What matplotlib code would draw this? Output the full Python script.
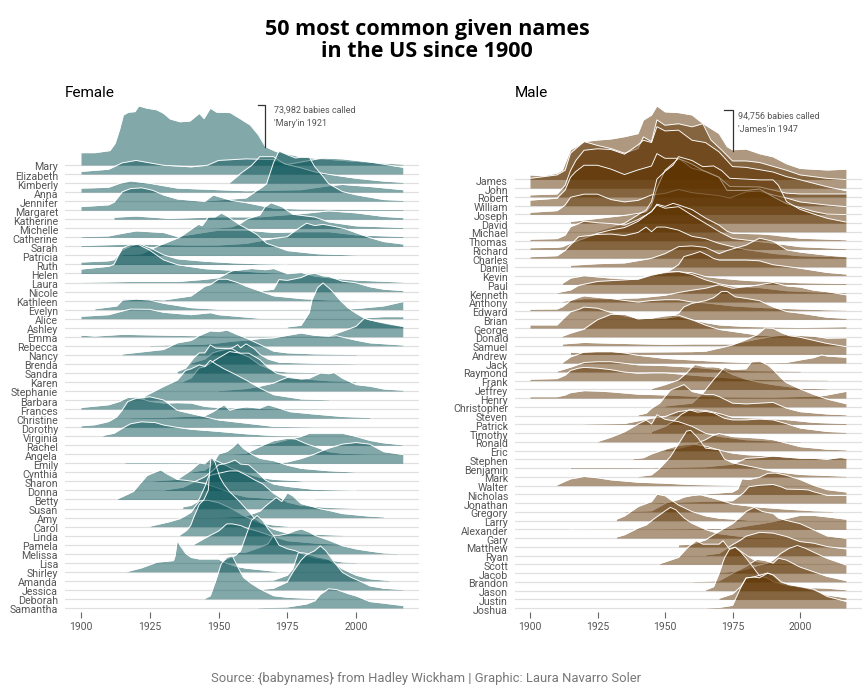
import matplotlib
matplotlib.use("Agg")
import matplotlib.pyplot as plt

# (years, counts in thousands)
mary = ([1900,1905,1910.5,1912.4,1914,1915.4,1917.2,1919.6,1921,1923.9,1927.5,1930,1932.4,1936,1939.6,1943,1944.7,1947,1949.3,1954.2,1957.8,1961.5,1964.5,1967,1971,1975,1980,1990,2000,2017],
        [15.4,15.4,18,27,44,62.5,66,66.7,73.9,71,69,64.6,57.5,54,55,64.6,58,71,66,65.5,58,50,37.5,23,16.7,14,10,7,4.5,1])
elizabeth = ([1900,1910,1915,1920,1930,1940,1946,1950,1960,1970,1975,1980,1988,1995,2005,2017],
             [3.3,6,14,17,11,9,11,17,19,18,12,15,20,19,15,8.5])
kimberly = ([1954,1958,1962,1965,1970,1974,1980,1985,1990,2000,2010,2017],
            [0.5,12,22,33,33,24,19,14,11,6,2.5,1])
anna = ([1900,1910,1914,1918,1925,1935,1950,1960,1980,1990,1995,2005,2017],
        [5,6,11,14,11,5,3,1.7,3,8,9.6,7,3])
jennifer = ([1946,1960,1966,1967.5,1970,1972,1975,1978,1980,1983,1985,1988,1990,1995,2000,2010,2017],
            [0.5,4,18,22,48,63,58,54,55,55,43,31,22,12,8,2,1])
margaret = ([1900,1910,1912,1915,1918,1922,1926,1930,1935,1945,1948,1955,1960,1970,1980,2017],
            [4.5,6.7,10,23,27,28,25,19,14,11,19,12,9.5,2.5,1.5,0.8])
katherine = ([1912,1920,1932,1950,1965,1980,1990,2000,2010,2017],
             [2.5,4,1,3,3,7,10.5,8,3.5,2])
michelle = ([1945,1950,1955,1958,1960,1965,1967,1969,1973,1977,1985,1990,2000,2017],
            [0.2,0.5,2,6,11,16.7,27,32,27,17.5,14,8,3,1])
catherine = ([1900,1910,1915,1920,1930,1935,1950,1960,1970,1980,1990,2000,2017],
             [0.8,1.7,5,8,6,1,9,9,6,7,7,3,1])
sarah = ([1900,1920,1940,1950,1960,1970,1975,1978,1982,1985,1988,1992,1996,2000,2005,2010,2017],
         [1,3,1.5,1.7,3.7,10,12,20,29,26,27.5,25,22,17,11,6,3])
patricia = ([1915,1922,1927.5,1936,1942.7,1944,1946.3,1948.7,1951,1953.6,1957.8,1960,1964,1967.5,1971,1975,1986,2000],
            [1,2,11,23,39,37,48,48,53,48,38,34,26,15,11,6,2,0.5])
ruth = ([1900,1910,1912,1915,1918,1921,1925,1930,1935,1945,1955,1965,1975],
        [3,4.5,6,18,23,26,21,12,7,4,2,0.8,0.3])
helen = ([1900,1910,1912,1915,1918,1921,1925,1930,1935,1945,1955,1965,1970,1980],
         [5.5,9,11.5,32,36,36,29,17,11,6,4,1.5,0.8,0.3])
laura = ([1900,1910,1917,1935,1945,1950,1955,1962,1967,1970,1975,1980,1985,1990,2000,2017],
         [0.3,0.8,1.2,1.2,4,6,14.6,17.5,16,17.5,11,12.5,8,6,3,0.5])
nicole = ([1966,1970,1972,1975,1980,1983,1985,1988,1990,1995,2000,2005,2010,2017],
          [1,3,15,14,17.5,22,23,19.6,19,13,11,6,3,1.2])
kathleen = ([1915,1920,1930,1940,1945,1947,1950,1953,1957,1960,1965,1970,1980,1990,2000],
            [1.7,2.5,0.8,5.8,18,20,26.7,26.7,22.5,18,12,6,2.5,0.8,0.3])
evelyn = ([1905,1913,1915,1920,1925,1930,1940,1950,1960,1995,2000,2010,2017],
          [1,4.6,11.7,13,12,8,2.5,0.5,0.3,0.6,1.3,4.6,10])
alice = ([1900,1910,1915,1918,1925,1930,1940,1947,1950,1960,1965,2000,2010,2017],
         [3,5,9.6,12,11.7,8,5,7.5,5,2,0.5,0.5,2.5,2.5])
ashley = ([1975,1980,1983,1984,1986,1988,1991,1994,1997,2000,2003,2008,2012,2017],
          [1,3,19,35,50,56,47,35,25,18,12,7,4,1.5])
emma = ([1900,1905,1915,1930,1950,1960,1990,2000,2003,2005,2010,2017],
        [2,0.8,3,2,0.8,0.8,0.8,13,23,21,17.5,13])
rebecca = ([1925,1945,1950,1955,1960,1965,1970,1975,1980,1985,1990,1993,2000,2005,2017],
           [0.5,2,3.7,5.8,7,9,10,13,16,13,12,12.5,7,3.7,1])
nancy = ([1915,1930,1935,1940,1943,1947,1950,1953,1957,1960,1965,1970,1975,1985,2000],
         [1,6.7,15,18,24,30,29,31,25,21,13,4.6,2.5,1.2,0.5])
brenda = ([1940,1945,1948,1950,1955,1957,1958,1960,1963,1965,1968,1972,1985,2000],
          [1.2,6,14,16,20,24,20,25,19,12,6,2,0.8,0.2])
sandra = ([1935,1938,1941,1943,1945,1947,1949,1955,1958,1961,1965,1970,1975,1985],
          [2,6,19,25,25,35,31,30,24,20,10,3,1.2,0.5])
karen = ([1937,1940,1943,1945,1950,1954,1958,1961,1965,1968,1971,1975,1980,1990,2000],
         [0.5,5,17.5,19,30,38,36,36,28,18,11,7,4,1.5,0.5])
stephanie = ([1950,1960,1965,1970,1975,1980,1983,1987,1990,1992,1995,2000,2005,2010,2017],
             [0.5,3,6,10,17,15,16,22.5,21.6,23,16,8,6,2.5,1])
barbara = ([1923,1930,1935,1938,1940,1943,1945,1947,1949,1952,1955,1960,1965,1970,1980,1990],
           [4.6,17,25,37,39,44,42,49.6,45,39,34,25,15,6.7,1.3,0.4])
frances = ([1900,1910,1914,1917,1920,1925,1930,1935,1940,1945,1950,1960,1970,1990],
           [2,5.4,9.6,14.6,15,9.6,7.5,8,7.5,3.3,2,1.2,0.5,0.3])
christine = ([1918,1930,1945,1948,1950,1952,1954,1957,1960,1965,1968,1972,1976,1985,1995,2005],
             [0.5,1,3,8,12.5,16.7,10,12.5,14,12.5,16.7,12.5,8,5,2,0.8])
dorothy = ([1900,1905,1910,1913,1915,1917,1920,1925,1930,1935,1940,1945,1950,1960,1970,1985],
           [1.7,3,7,13,21.7,32,36,38,34,21,17,13,9,5,1,0.3])
virginia = ([1908,1912,1915,1918,1922,1927,1930,1935,1940,1950,1960,1970,1985],
            [1,3.7,10,15.5,18,17,14,11,8.7,6,3,0.8,0.3])
rachel = ([1915,1960,1965,1970,1975,1980,1983,1990,1995,2000,2005,2010,2017],
          [0.3,0.3,0.8,2.5,7,11,15,15,15,11,6,3,0.5])
angela = ([1955,1960,1965,1970,1975,1978,1982,1985,1990,1995,2005],
          [0.4,1.2,9.6,17,20,19,13,9.6,3.3,1.2,0.4])
emily = ([1916,1922,1970,1975,1980,1985,1990,1995,2000,2005,2010,2017],
         [0.8,0.8,0.5,1.7,6,11.7,19,24,26,24,14.6,11])
cynthia = ([1940,1945,1948,1950,1953,1955,1957,1959,1962,1965,1970,1975,1980,1990,2000],
           [0.5,3,11,23,26,31,37.5,30,23,17.5,14.6,9,5,2,0.4])
sharon = ([1925,1935,1940,1943,1945,1947,1950,1955,1960,1965,1970,1980],
          [0.3,2.5,14,23,22,29,24.6,16,10,5,2.5,0.7])
donna = ([1930,1937,1942,1945,1948,1950,1953,1956,1958,1961,1964,1967,1970,1975,1985,2000],
         [0.5,4,12,17,25,32,34,38,33,32,23,13,8,5,1.3,0.2])
betty = ([1913,1919,1924,1926,1929,1931,1935,1938,1942,1945,1950,1955,1960,1970,1985],
         [0.3,10,30,33,37,32.5,25,24,22,20,14,7.5,3.3,1,0.2])
susan = ([1937,1940,1942,1943,1945,1946.5,1950,1954,1957,1960,1963,1966,1970,1975,1980,1990,2000],
         [2,4,8,12,27,41,44,47,47,42,36,31,19,8,4,1.3,0.3])
amy = ([1950,1960,1965,1968,1971,1973,1975,1977,1980,1987,1990,1995,2005,2010],
       [0.3,2,8,17,25,20,31,27,17.5,11,9,5,1.7,0.8])
carol = ([1925,1932,1936,1938,1940,1943,1946,1950,1955,1960,1965,1970,1975],
         [0.5,6,10,13.7,18,32,33,30,22,12,4.6,2,0.5])
linda = ([1935.8,1938.4,1939.9,1941,1943,1944.7,1946.3,1946.7,1947.3,1948.7,1950.5,1952,1954,1957,1961,1963,1966,1970,1975,1995],
         [0.5,6.7,13,23,39,45,57,77,99,92,73,64,55,45,30,22,15,8,3,0.5])
pamela = ([1941,1946,1950,1953,1955,1958,1960,1965,1970,1975,1985,1995],
          [0.4,10,17,26,26,24,21,16,10,5,2,0.4])
melissa = ([1950,1960,1965,1968,1970,1972,1975,1978,1980,1983,1985,1990,1995,2000,2005,2010,2015],
           [0.2,2,8,12.5,23,23,25,29,31,27,23,17,10,6,3.3,1,0.2])
lisa = ([1950,1956,1958,1960,1962,1964,1966,1968,1970,1972,1975,1978,1982,1985,1990,1995,2000],
        [0.4,9,15,34,53,59,53,42.5,34,22,17.5,15,9,6,3.7,1,0.3])
shirley = ([1916.6,1922,1927.5,1933.6,1934.2,1935,1936,1938,1940,1943,1950,1952,1956,1960,1971],
           [0.2,5,12,14,20,39,33,23,18,16,16,12,7,4.5,0.5])
amanda = ([1960,1970,1975,1977,1979,1981,1983,1986,1990,1995,2000,2005,2012],
          [0.2,1,7,15,35,35,33,30,27,15,7,2.5,0.5])
jessica = ([1965,1970,1975,1977,1980,1982,1985,1987,1989,1992,1995,1998,2002,2005,2010,2017],
           [0.5,2,10,22,37,44,49,55,49,35,22,16,10,5,2,0.5])
deborah = ([1945,1947,1949,1951,1953,1955,1957,1959,1962,1965,1970,1975,1985],
           [0.5,4,23,44,52,54,40,27,19,12.5,4,2,0.4])
samantha = ([1964,1975,1982,1985,1987,1990,1993,1997,2000,2005,2010,2017],
            [0.3,1.2,5,9,17,24,23,18,15,8,6,3])

james = ([1900,1905,1910,1912,1915,1917,1920,1925,1930,1935,1940,1942,1945,1947,1950,1955,1960,1964,1970,1973,1975,1980,1985,1990,1995,2000,2010,2017],
         [5.6,4.5,8,12,38,42,48.6,50.7,52,55,59,76.5,83,94.7,87,86,83,72,59,42,38,39,33,29,20,14,12,13])
john = ([1900,1910,1913,1915,1917,1920,1925,1930,1935,1940,1942,1945,1947,1950,1955,1960,1964,1967,1971,1975,1980,1985,1990,1995,2000,2010,2017],
        [12.5,17,23,45,51,60,55,51,45,51,66,60,88,81,83,79,83,62,49,35,35,33,28,23,17,12.5,11])
robert = ([1900,1910,1913,1915,1917,1920,1925,1930,1935,1940,1942,1945,1947,1950,1955,1960,1965,1970,1975,1980,1985,1990,1995,2000,2010,2017],
          [2.5,3.6,15,34,47,60,62,61,55,67,73,70,90.5,85,86,73,70,58,39,38,35,32,26,22,13,8])
william = ([1900,1910,1913,1915,1917,1920,1925,1930,1935,1940,1945,1947,1950,1955,1960,1965,1970,1974,1985,1990,1995,2000,2010,2017],
           [7,9.5,20,36.5,44,52,52,47,40,46,51,67,61,61,48,44,36.5,24.5,24,20,16,15,15,15])
joseph = ([1900,1910,1913,1915,1920,1925,1930,1935,1940,1945,1950,1955,1960,1965,1970,1974,1980,1985,1990,1995,2000,2010,2017],
          [2.6,4.7,12,22,26,26,19,16,18,25,27,32,28,26,24,21,29,30,25,21,16,12,10])
david = ([1915,1925,1930,1935,1940,1943,1945,1947,1950,1955,1958,1960,1964,1968,1970,1973,1980,1985,1990,1995,2000,2005,2010,2017],
         [2,6,8,10,12.5,14.6,23,45,68,83,79,76,68,62,59,42,42,44,34,25,20,15,11.6,11])
michael = ([1925,1930,1935,1940,1943,1945,1947,1950,1953,1955,1958,1960,1964,1968,1971,1974,1980,1985,1990,1992,1995,2000,2005,2010,2017],
           [1,6,11,22,28,39,68,78,86,97,94,92,84,85,79,69,68,67,67,60,39,29,23,17.5,12.6])
thomas = ([1900,1910,1913,1915,1918,1920,1925,1930,1935,1940,1945,1947,1950,1953,1955,1960,1965,1970,1973,1975,1985,1990,2000,2017],
          [1.7,2.5,7,18,22,25,23,22,20,27,37,47,44,48,46,40,29,20,12,9.5,8.6,7.3,3,1])
richard = ([1900,1910,1912,1915,1920,1925,1930,1935,1940,1945,1947,1950,1955,1960,1965,1970,1975,1980,1990,2000,2017],
           [2,2.5,3.4,8,14,20.6,25,28,36,49,57,53,55,44,33.5,23,14,12,8,3.4,0.8])
charles = ([1900,1910,1913,1915,1918,1925,1930,1935,1940,1943,1945,1947,1950,1955,1960,1965,1970,1975,1980,1990,2000,2017],
           [1.7,3,10,17,27.5,30.5,31,29,33,40,34,40,40,36,28,25,19,14.6,11,6,3,1.5])
daniel = ([1915,1925,1935,1945,1950,1955,1960,1965,1970,1973,1980,1985,1990,1995,2000,2005,2010,2017],
          [2,4,5,11,17,26,27,25,17,21,28,37,33,22,19,17,15,13])
kevin = ([1945,1950,1955,1957,1960,1963,1966,1968,1970,1975,1980,1985,1990,2000,2010,2017],
         [0.3,3,14,24.5,27.5,31,26,22,20,20,20,19,14,9.5,4,2])
paul = ([1912,1915,1920,1930,1940,1945,1950,1955,1960,1965,1970,1980,2000,2017],
        [1.3,8,11,8,6.5,13,15,16,15,10,8,5,2,1])
kenneth = ([1910,1915,1918,1925,1935,1940,1945,1950,1955,1960,1965,1970,1975,1985,1995,2005,2017],
           [0.5,4,10,15,17,18,23,27,28,24,17,12,9,7,3,1.5,0.7])
anthony = ([1912,1915,1920,1930,1940,1950,1955,1960,1965,1970,1975,1980,1985,1990,1995,2000,2005,2010,2017],
           [0.6,2,4,4,5,8.5,12,15,17.5,22,17.5,19.6,22,25,20.5,19,15,13,9])
edward = ([1900,1910,1912,1915,1918,1920,1925,1930,1935,1940,1945,1950,1955,1960,1965,1970,1975,1985,2000,2010,2017],
          [1.7,2,5,13,17,19,17,15.5,13,11,13,14,14,11,10,8,6,4,2,1,0.5])
brian = ([1945,1950,1955,1957,1960,1965,1968,1971,1973,1976,1980,1985,1990,1995,2000,2010,2017],
         [0.2,1.3,8,16,20.6,24,28,36,36,29,27,24,16,10,8,2.6,1.3])
george = ([1900,1910,1912,1915,1918,1920,1925,1930,1935,1940,1950,1955,1960,1965,1970,1980,2000,2017],
          [4,4,11,21,24,27,25.6,20,15.7,12.7,12.7,15,10.5,7,4,2,0.8,1.7])
donald = ([1911.7,1915,1920,1925,1930,1935,1940,1945,1950,1955,1960,1965,1970,1975,1985,2000],
          [0.4,4.7,10,22,29,29,23,24,27,28,22,15,9.5,7,2,0.6])
samuel = ([1912,1920,1930,1950,1960,1975,1985,1990,1995,2000,2005,2010,2017],
          [2,4,3,1.5,2,2,9,12,14,13,12,9.5,10])
andrew = ([1915,1925,1960,1965,1970,1975,1980,1984,1987,1990,1993,1996,2000,2005,2010,2017],
          [2.5,2.5,3.4,4,8,12,19,25,34,33.5,28,24,22,18,14,10])
jack = ([1912,1915,1920,1925,1930,1935,1940,1945,1950,1960,1970,1980,1990,1995,2000,2005,2008,2010,2017],
        [0.6,8,14,15,15,13,10,8,6,4,2,0.7,0.5,0.8,4,7,10.5,9,7.5])
raymond = ([1910,1915,1920,1925,1930,1940,1950,1955,1960,1970,1980,2000],
           [0.8,6,12,13,13,9,8,7,6,3,1.5,0.8])
frank = ([1900,1910,1913,1915,1918,1920,1925,1930,1935,1940,1945,1950,1955,1960,1970,1980,1990,2000,2010],
         [1.7,2.5,7,13,16,17,16,14,11,9.5,10,10,8.6,7,4.3,2,1.2,0.8,0.6])
jeffrey = ([1945,1950,1955,1958,1961,1965,1968,1970,1975,1980,1985,1990,2000,2010],
           [1,6,12,21,32,29,29,28,19,13,9,6,1.5,0.6])
henry = ([1900,1910,1913,1915,1920,1925,1930,1935,1940,1950,1960,1970,1990,2000,2008,2010,2013,2017],
         [1.7,1.7,4,7,9.5,9,8,6.5,5,4,2.5,1.5,1.2,2,3,4,6,8.6])
christopher = ([1950,1960,1964,1965,1968,1970,1972,1975,1980,1982,1985,1988,1990,1993,1995,2000,2005,2010,2017],
               [1,4.7,17.6,22,35,43,51,48,49,58,59,54,48,37,31,23,16,10,4])
steven = ([1940,1943,1945,1948,1950,1952,1955,1957,1960,1965,1968,1970,1975,1980,1985,1990,1995,2000,2010,2017],
          [0.8,3,9.5,16,24.5,33,37,40,31,27,27,24.5,16,15,16,17,9.5,5,2,1])
patrick = ([1920,1935,1945,1950,1955,1960,1965,1970,1975,1985,1995,2005,2017],
           [0.5,1,8,10,16.5,18.7,18,14,9,8,6,2.4,1])
timothy = ([1945,1950,1953,1956,1959,1962,1965,1968,1972,1975,1980,1985,1990,1995,2000,2010,2017],
           [2,8.6,15,24,30,27,28,26,19,17,17,18,17,12,6.5,2,1])
ronald = ([1925,1930,1935,1940,1943,1945,1947,1950,1955,1960,1965,1970,1980,1990,2000],
          [0.3,6,13,23,28,23,35,29,26,20,11,7,2.6,1,0.4])
eric = ([1950,1955,1960,1965,1968,1970,1975,1980,1985,1990,1995,2000,2010,2017],
        [1.7,3,7,14,20,22,18,17,16,14,9.5,5,1.7,0.9])
stephen = ([1938,1942,1945,1950,1955,1960,1965,1970,1975,1980,1990,2000,2017],
           [0.7,2,7,13,18,20,17,12,8,6,4,2,0.8])
benjamin = ([1915,1928,1945,1965,1975,1980,1985,1990,1995,2000,2005,2010,2015,2017],
            [0.8,0.8,0.5,1.7,5,12.5,13.5,15.5,14,12.5,12.5,11,14,12.5])
mark = ([1940,1945,1948,1952,1954,1956,1958,1959.5,1962,1965,1970,1972,1975,1985,1990,2000,2017],
        [0.4,2.6,11,26,37,48,59,60,51,37,35,23,18,11,7,3,0.8])
walter = ([1910,1913,1915,1920,1925,1930,1940,1950,1960,1975],
          [0.9,5.6,8.6,11.6,10,7.3,4.3,3,1.3,0.3])
nicholas = ([1965,1970,1975,1977,1978.5,1981,1985,1988,1991,1995,2000,2005,2010,2017],
            [0.5,1.7,3,7,20,19,22,27,27.5,24.5,19,11.6,6,3])
jonathan = ([1945,1975,1977,1979,1981,1985,1990,1993,1995,2000,2003,2005,2010,2017],
            [0.3,3,8,13,21,23,24,21,18,17.6,17,14.6,10,10])
gregory = ([1935,1945,1948,1950,1955,1957,1960,1963,1967,1970,1975,1985,1995,2005,2012],
           [0.3,1.3,7,11,16,19,21,22,18.5,15.5,10,6,3.4,1.3,0.5])
larry = ([1932,1935,1940,1943,1945,1947,1950,1952,1955,1960,1965,1970,1980],
         [1.7,6,18,22,24.5,34,32,27,20,11.6,6,3,0.8])
alexander = ([1915,1950,1975,1980,1985,1990,1995,2000,2005,2010,2017],
             [0.3,0.5,1.2,4.3,7,10,14,18,18,16,13])
gary = ([1932,1935,1940,1943,1946,1948,1950,1952,1954,1957,1960,1965,1970,1980,1990],
        [1.3,4.3,13,17,25,30,35,39.6,36.5,26,19,11,5.6,1.3,0.4])
matthew = ([1955,1960,1965,1968,1970,1972,1975,1978,1980,1983,1986,1990,1992,1995,2000,2005,2010,2017],
           [2.6,3.4,9,15.5,20,24,30,39,45.6,51,45.6,43,37,34,30,22,14,11])
ryan = ([1965,1970,1975,1978,1980,1985,1990,1995,2000,2005,2010,2017],
        [0.8,3,14,20,25,30,29,24.5,18,16,11.6,8.6])
scott = ([1948,1955,1958,1961.5,1964,1970,1971.5,1974,1976,1980,1984,1990,2000],
         [0.8,9,20.6,30.5,26,26,30.5,19,22,12,3.4,1.3,0.5])
jacob = ([1970,1975,1980,1985,1988,1990,1993,1996,1999,2002,2005,2010,2017],
         [0.5,2,5,10.6,12.7,17,25.6,32,35.5,32,27,19,10.5])
brandon = ([1960,1970,1975,1980,1984,1987,1990,1992,1995,2000,2005,2010,2017],
           [0.2,1.3,11,20,29,27.5,24,30.5,28,19,13,7,1.5])
jason = ([1965,1968,1970,1972,1974,1976,1978,1980,1982,1985,1988,1990,1995,2000,2010,2017],
         [0.8,5,22,42,54,56,50,42,33,19,16,11.6,7,4.3,3,1])
justin = ([1970,1975,1978,1980,1983,1985,1988,1990,1993,1995,2000,2005,2010,2017],
          [1.3,7,16,27,29,31,34,31,21.5,20,16,12,5.6,2])
joshua = ([1965,1970,1975,1978,1980,1983,1985,1988,1990,1993,1996,2000,2005,2010,2017],
          [0.3,0.8,3.5,26,39,40,39,45,43,34,30,28,24.5,15,8.6])

female_names = ["Mary","Elizabeth","Kimberly","Anna","Jennifer","Margaret","Katherine","Michelle","Catherine","Sarah",
                "Patricia","Ruth","Helen","Laura","Nicole","Kathleen","Evelyn","Alice","Ashley","Emma",
                "Rebecca","Nancy","Brenda","Sandra","Karen","Stephanie","Barbara","Frances","Christine","Dorothy",
                "Virginia","Rachel","Angela","Emily","Cynthia","Sharon","Donna","Betty","Susan","Amy",
                "Carol","Linda","Pamela","Melissa","Lisa","Shirley","Amanda","Jessica","Deborah","Samantha"]
female_series = [mary,elizabeth,kimberly,anna,jennifer,margaret,katherine,michelle,catherine,sarah,
                 patricia,ruth,helen,laura,nicole,kathleen,evelyn,alice,ashley,emma,
                 rebecca,nancy,brenda,sandra,karen,stephanie,barbara,frances,christine,dorothy,
                 virginia,rachel,angela,emily,cynthia,sharon,donna,betty,susan,amy,
                 carol,linda,pamela,melissa,lisa,shirley,amanda,jessica,deborah,samantha]
male_names = ["James","John","Robert","William","Joseph","David","Michael","Thomas","Richard","Charles",
              "Daniel","Kevin","Paul","Kenneth","Anthony","Edward","Brian","George","Donald","Samuel",
              "Andrew","Jack","Raymond","Frank","Jeffrey","Henry","Christopher","Steven","Patrick","Timothy",
              "Ronald","Eric","Stephen","Benjamin","Mark","Walter","Nicholas","Jonathan","Gregory","Larry",
              "Alexander","Gary","Matthew","Ryan","Scott","Jacob","Brandon","Jason","Justin","Joshua"]
male_series = [james,john,robert,william,joseph,david,michael,thomas,richard,charles,
               daniel,kevin,paul,kenneth,anthony,edward,brian,george,donald,samuel,
               andrew,jack,raymond,frank,jeffrey,henry,christopher,steven,patrick,timothy,
               ronald,eric,stephen,benjamin,mark,walter,nicholas,jonathan,gregory,larry,
               alexander,gary,matthew,ryan,scott,jacob,brandon,jason,justin,joshua]
year_ticks = [1900, 1925, 1950, 1975, 2000]

W, H = 868, 691
plt.rcParams["font.family"] = ["Roboto", "DejaVu Sans"]
fig = plt.figure(figsize=(W / 100, H / 100), dpi=100, facecolor="white")


def ridges(left, right, top, bottom, x1900, px_year, first_base, row_px, px_per_k, names, series, color, label_right):
    ax = fig.add_axes([left / W, 1 - bottom / H, (right - left) / W, (bottom - top) / H])
    last_base = first_base + row_px * (len(names) - 1)
    ax.set_xlim(1900 - (x1900 - left) / px_year, 1900 + (right - x1900) / px_year)
    ax.set_ylim((last_base - bottom) / px_per_k, (last_base - top) / px_per_k)
    for s in ax.spines.values():
        s.set_visible(False)
    ax.patch.set_alpha(0)
    ax.set_yticks([])
    ax.set_xticks(year_ticks)
    ax.tick_params(axis="x", length=4, width=0.8, color="#666666", labelcolor="#555555", labelsize=7.5, pad=3)

    step = row_px / px_per_k
    for i, (name, (years, counts)) in enumerate(zip(names, series)):
        base = (len(names) - 1 - i) * step
        z = 2 + i * 0.01
        ax.axhline(base, color="#e0e0e0", lw=0.9, zorder=1)
        tops = [base + c for c in counts]
        ax.fill_between(years, base, tops, color=color, alpha=0.5, lw=0, zorder=z)
        ax.plot(years, tops, color="white", lw=0.65, zorder=z + 0.005, solid_joinstyle="round")
        fig.text(label_right / W, 1 - (first_base + row_px * i + 2.5) / H, name, ha="right", va="center",
                 fontsize=7.7, color="#555555")
    return ax


ridges(65, 419, 100, 612, 81, 2.75, 165, 9.04, 0.8, female_names, female_series, "#095357", 58)
ridges(515, 862, 100, 612, 530, 2.7, 179.3, 8.75, 0.775, male_names, male_series, "#5e3300", 508)

fig.text(427 / W, 1 - 40.5 / H, "50 most common given names\nin the US since 1900", ha="center", va="center",
         fontsize=15.5, fontweight="bold", family="Open Sans", color="black", linespacing=1.1)
fig.text(65 / W, 1 - 93 / H, "Female", fontsize=11, va="center", color="black")
fig.text(515 / W, 1 - 93 / H, "Male", fontsize=11, va="center", color="black")

# brackets and notes over the tallest ridge of each panel
for xs, ys in [((258, 265, 265), (105, 105, 147)), ((724, 733, 733), (110, 110, 151))]:
    fig.add_artist(plt.Line2D([x / W for x in xs], [1 - y / H for y in ys], color="#333333", lw=0.9))
fig.text(274 / W, 1 - 110 / H, "73,982 babies called", fontsize=6.5, va="center", color="#555555")
fig.text(274 / W, 1 - 123 / H, "'Mary'in 1921", fontsize=6.5, va="center", color="#555555")
fig.text(738 / W, 1 - 116 / H, "94,756 babies called", fontsize=6.5, va="center", color="#555555")
fig.text(738 / W, 1 - 129 / H, "'James'in 1947", fontsize=6.5, va="center", color="#555555")

fig.text(426 / W, 1 - 678 / H, "Source: {babynames} from Hadley Wickham | Graphic: Laura Navarro Soler", ha="center",
         va="center", fontsize=9.4, color="#777777")

fig.savefig("out.png", dpi=100, facecolor="white")
